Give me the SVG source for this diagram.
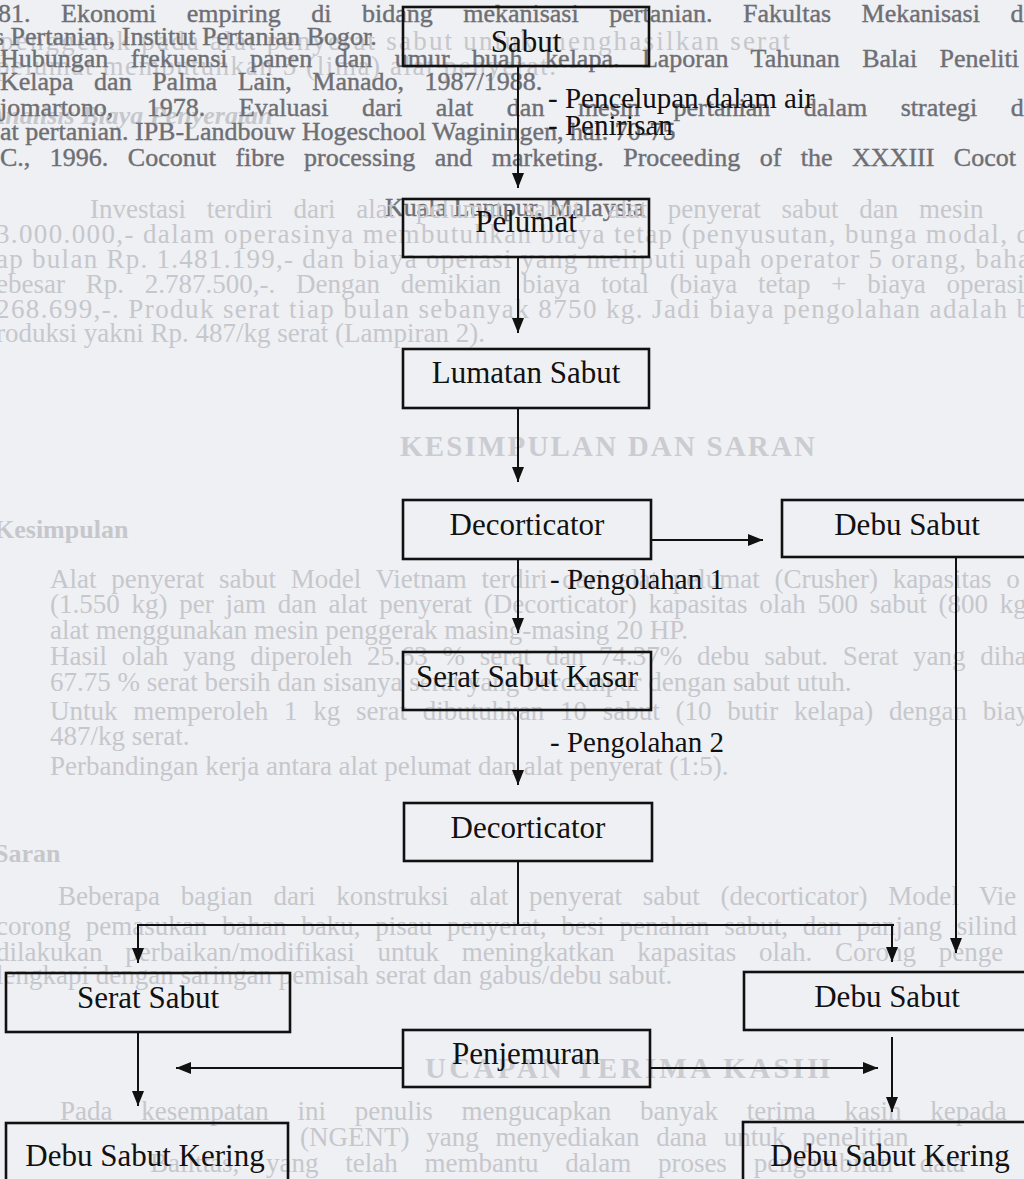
<svg xmlns="http://www.w3.org/2000/svg" width="1024" height="1179" viewBox="0 0 1024 1179">
<defs>
<marker id="ah" markerWidth="15" markerHeight="12" refX="15" refY="6" orient="auto" markerUnits="userSpaceOnUse"><path d="M0,0 L15,6 L0,12 z" fill="#111"/></marker>
<style>
.box{fill:none;stroke:#111;stroke-width:2.6}
.nt{font-family:"Liberation Serif","Times New Roman",serif;font-size:31px;fill:#111;text-anchor:middle}
.lb{font-family:"Liberation Serif","Times New Roman",serif;font-size:29px;fill:#111}
.ln{fill:none;stroke:#111;stroke-width:2}
.gd{font-family:"Liberation Serif","Times New Roman",serif;font-size:26px;fill:#6e6f74;stroke:#6e6f74;stroke-width:0.4}
.gl{font-family:"Liberation Serif","Times New Roman",serif;font-size:27px;fill:#c6c7cc}
.gh{font-family:"Liberation Serif","Times New Roman",serif;font-size:29px;font-weight:bold;fill:#cbccd1}
.gb{font-family:"Liberation Serif","Times New Roman",serif;font-size:26px;font-weight:bold;fill:#c6c7cc}
</style>
</defs>
<rect x="0" y="0" width="1024" height="1179" fill="#eff0f3"/>
<g id="background-text">
<text class="gl" x="0" y="50" textLength="790" lengthAdjust="spacing">penggerak pada alat penyerat sabut untuk menghasilkan serat</text>
<text class="gl" x="-4" y="75" textLength="560" lengthAdjust="spacing">pelumat membutuhkan 5 (lima) alat penyerat.</text>
<text class="gb" x="-12" y="124" font-style="italic">Analisis Biaya Penyeratan</text>
<text class="gd" x="-2" y="22" word-spacing="24">81. Ekonomi empiring di bidang mekanisasi pertanian. Fakultas Mekanisasi d</text>
<text class="gd" x="-6" y="45">s Pertanian, Institut Pertanian Bogor.</text>
<text class="gd" x="0" y="67" word-spacing="16">Hubungan frekuensi panen dan umur buah kelapa. Laporan Tahunan Balai Peneliti</text>
<text class="gd" x="0" y="90" word-spacing="14">Kelapa dan Palma Lain, Manado, 1987/1988.</text>
<text class="gd" x="0" y="116" word-spacing="27">jomartono, 1978. Evaluasi dari alat dan mesin pertanian dalam strategi d</text>
<text class="gd" x="0" y="140">at pertanian. IPB-Landbouw Hogeschool Waginingen, hal. 70-75</text>
<text class="gd" x="0" y="166" word-spacing="13">C., 1996. Coconut fibre processing and marketing. Proceeding of the XXXIII Cocot</text>
<text class="gd" x="385" y="216">Kuala Lumpur, Malaysia</text>
<text class="gl" x="90" y="218" word-spacing="14">Investasi terdiri dari alat pelumat sabut, alat penyerat sabut dan mesin</text>
<text class="gl" x="-4" y="243" textLength="1034" lengthAdjust="spacing">3.000.000,- dalam operasinya membutuhkan biaya tetap (penyusutan, bunga modal, d</text>
<text class="gl" x="-4" y="268" textLength="1034" lengthAdjust="spacing">ap bulan Rp. 1.481.199,- dan biaya operasi yang meliputi upah operator 5 orang, baha</text>
<text class="gl" x="-4" y="293" word-spacing="14">ebesar Rp. 2.787.500,-. Dengan demikian biaya total (biaya tetap + biaya operasi</text>
<text class="gl" x="-4" y="318" textLength="1034" lengthAdjust="spacing">268.699,-. Produk serat tiap bulan sebanyak 8750 kg. Jadi biaya pengolahan adalah b</text>
<text class="gl" x="-4" y="342">roduksi yakni Rp. 487/kg serat (Lampiran 2).</text>
<text class="gh" x="400" y="456" textLength="415" lengthAdjust="spacing">KESIMPULAN DAN SARAN</text>
<text class="gb" x="-6" y="538">Kesimpulan</text>
<text class="gl" x="50" y="588" word-spacing="8">Alat penyerat sabut Model Vietnam terdiri dari alat pelumat (Crusher) kapasitas o</text>
<text class="gl" x="50" y="613" word-spacing="5">(1.550 kg) per jam dan alat penyerat (Decorticator) kapasitas olah 500 sabut (800 kg</text>
<text class="gl" x="50" y="639">alat menggunakan mesin penggerak masing-masing 20 HP.</text>
<text class="gl" x="50" y="665" word-spacing="8">Hasil olah yang diperoleh 25.63 % serat dan 74.37% debu sabut. Serat yang diha</text>
<text class="gl" x="50" y="691">67.75 % serat bersih dan sisanya serat yang bercampur dengan sabut utuh.</text>
<text class="gl" x="50" y="720" word-spacing="9">Untuk memperoleh 1 kg serat dibutuhkan 10 sabut (10 butir kelapa) dengan biaya</text>
<text class="gl" x="50" y="745">487/kg serat.</text>
<text class="gl" x="50" y="775">Perbandingan kerja antara alat pelumat dan alat penyerat (1:5).</text>
<text class="gb" x="-6" y="862">Saran</text>
<text class="gl" x="58" y="905" word-spacing="14">Beberapa bagian dari konstruksi alat penyerat sabut (decorticator) Model Vie</text>
<text class="gl" x="-4" y="935" word-spacing="8">corong pemasukan bahan baku, pisau penyerat, besi penahan sabut, dan panjang silind</text>
<text class="gl" x="-4" y="961" word-spacing="16">dilakukan perbaikan/modifikasi untuk meningkatkan kapasitas olah. Corong penge</text>
<text class="gl" x="-4" y="984">lengkapi dengan saringan pemisah serat dan gabus/debu sabut.</text>
<text class="gh" x="425" y="1078" textLength="405" lengthAdjust="spacing">UCAPAN TERIMA KASIH</text>
<text class="gl" x="60" y="1120" word-spacing="22">Pada kesempatan ini penulis mengucapkan banyak terima kasih kepada</text>
<text class="gl" x="300" y="1146" word-spacing="10">(NGENT) yang menyediakan dana untuk penelitian</text>
<text class="gl" x="150" y="1172" word-spacing="20">Balittas, yang telah membantu dalam proses pengambilan data</text>
</g>
<g id="connectors">
<path class="ln" d="M518,66 V188" marker-end="url(#ah)"/>
<path class="ln" d="M518,257 V333" marker-end="url(#ah)"/>
<path class="ln" d="M518,408 V482" marker-end="url(#ah)"/>
<path class="ln" d="M651,540 H763" marker-end="url(#ah)"/>
<path class="ln" d="M518,559 V633" marker-end="url(#ah)"/>
<path class="ln" d="M518,710 V785" marker-end="url(#ah)"/>
<path class="ln" d="M518,861 V925"/>
<path class="ln" d="M137,925 H894"/>
<path class="ln" d="M138,925 V963" marker-end="url(#ah)"/>
<path class="ln" d="M892,925 V962" marker-end="url(#ah)"/>
<path class="ln" d="M956,557 V953" marker-end="url(#ah)"/>
<path class="ln" d="M403,1068 H176" marker-end="url(#ah)"/>
<path class="ln" d="M650,1068 H878" marker-end="url(#ah)"/>
<path class="ln" d="M138,1032 V1106" marker-end="url(#ah)"/>
<path class="ln" d="M892,1037 V1112" marker-end="url(#ah)"/>
<text class="lb" x="548" y="108">- Pencelupan dalam air</text>
<text class="lb" x="548" y="135">- Penirisan</text>
<text class="lb" x="550" y="589">- Pengolahan 1</text>
<text class="lb" x="550" y="752">- Pengolahan 2</text>
</g>
<g id="n-sabut"><rect class="box" x="403" y="7" width="246" height="59"/><text class="nt" x="526" y="52">Sabut</text></g>
<g id="n-pelumat"><rect class="box" x="403" y="199" width="246" height="58"/><text class="nt" x="526" y="232">Pelumat</text></g>
<g id="n-lumatan"><rect class="box" x="403" y="349" width="246" height="59"/><text class="nt" x="526" y="383">Lumatan Sabut</text></g>
<g id="n-decorticator1"><rect class="box" x="403" y="500" width="248" height="59"/><text class="nt" x="527" y="535">Decorticator</text></g>
<g id="n-debu1"><rect class="box" x="782" y="500" width="252" height="57"/><text class="nt" x="907" y="535">Debu Sabut</text></g>
<g id="n-seratkasar"><rect class="box" x="403" y="652" width="248" height="58"/><text class="nt" x="527" y="687">Serat Sabut Kasar</text></g>
<g id="n-decorticator2"><rect class="box" x="404" y="803" width="248" height="58"/><text class="nt" x="528" y="838">Decorticator</text></g>
<g id="n-serat"><rect class="box" x="6" y="973" width="284" height="59"/><text class="nt" x="148" y="1008">Serat Sabut</text></g>
<g id="n-debu2"><rect class="box" x="744" y="972" width="290" height="58"/><text class="nt" x="887" y="1007">Debu Sabut</text></g>
<g id="n-penjemuran"><rect class="box" x="403" y="1030" width="247" height="57"/><text class="nt" x="526" y="1064">Penjemuran</text></g>
<g id="n-kering1"><rect class="box" x="6" y="1123" width="282" height="70"/><text class="nt" x="145" y="1166">Debu Sabut Kering</text></g>
<g id="n-kering2"><rect class="box" x="743" y="1122" width="292" height="70"/><text class="nt" x="890" y="1166">Debu Sabut Kering</text></g>
</svg>
